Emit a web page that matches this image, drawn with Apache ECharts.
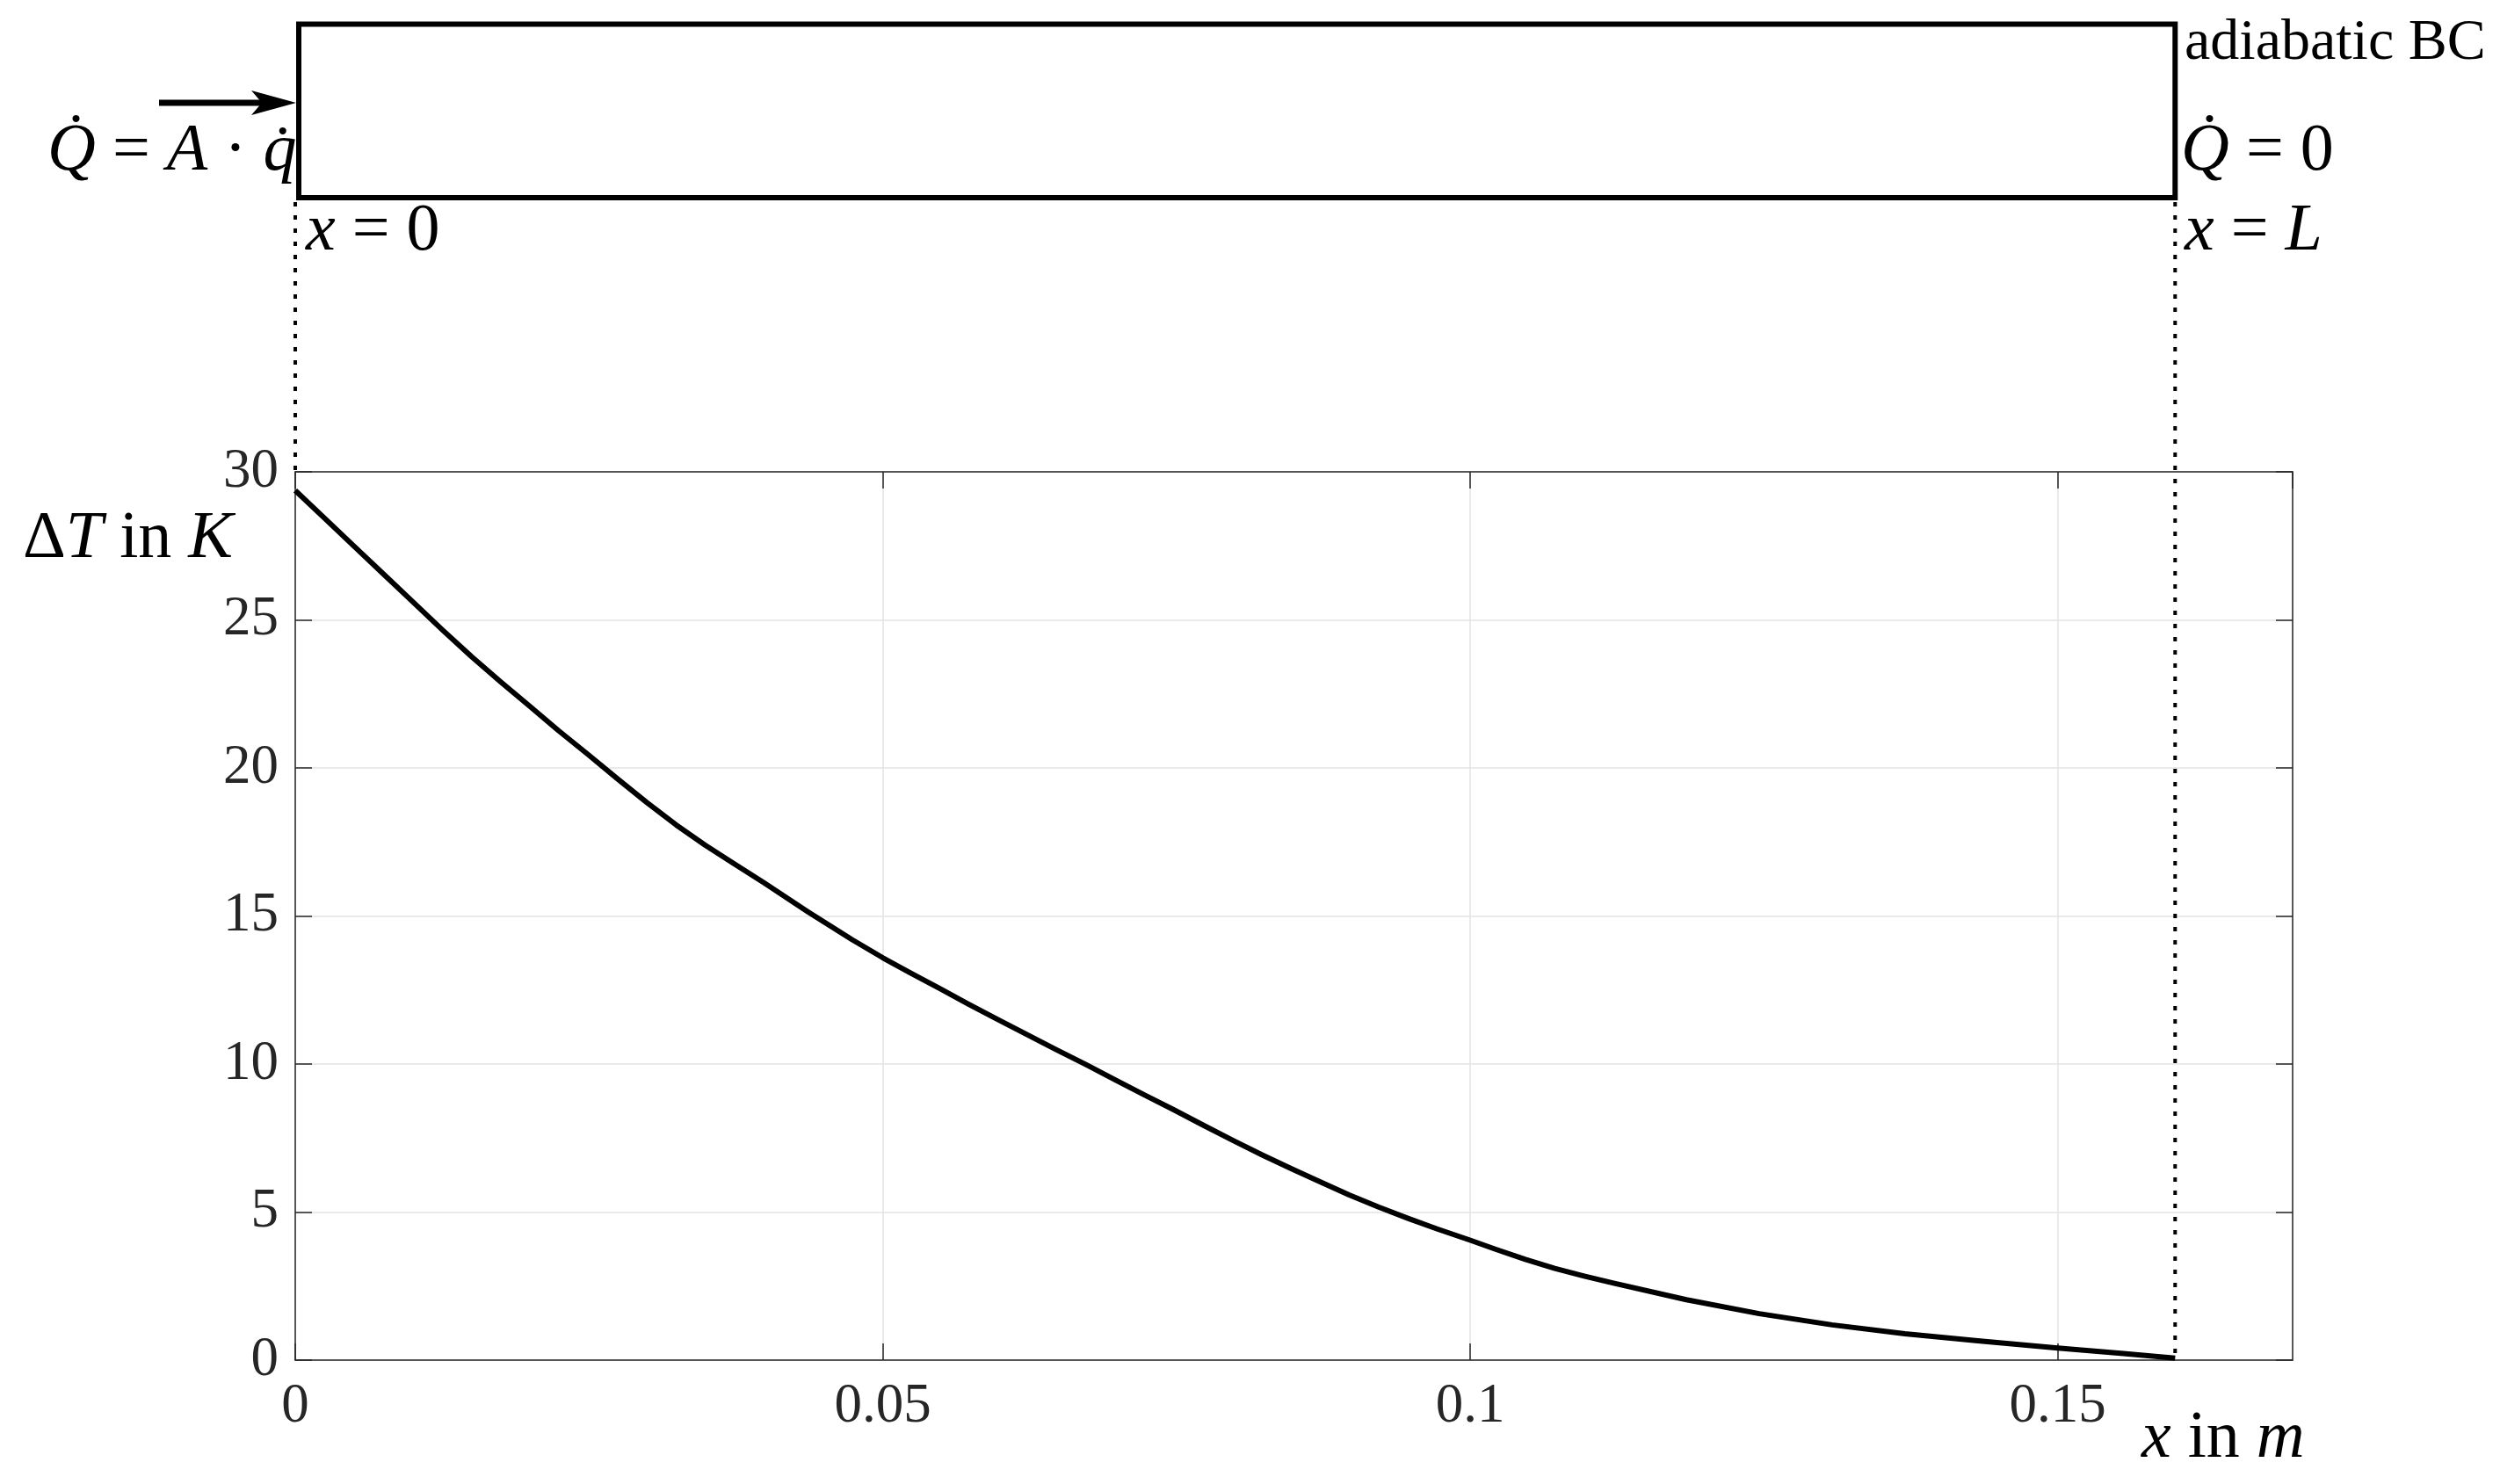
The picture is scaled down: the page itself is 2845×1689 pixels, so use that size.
<!DOCTYPE html>
<html>
<head>
<meta charset="utf-8">
<title>Temperature along rod</title>
<script src="https://cdn.jsdelivr.net/npm/echarts@6/dist/echarts.min.js"></script>
<style>
  html, body { margin: 0; padding: 0; background: #fff; }
  #chart { width: 2845px; height: 1689px; }
</style>
</head>
<body>
<div id="chart"></div>
<script>
// x position along the rod in m
const xPos = [0, 0.0025, 0.005, 0.0075, 0.01, 0.0125, 0.015, 0.0175, 0.02, 0.0224,
  0.0249, 0.0274, 0.0299, 0.0324, 0.0349, 0.0374, 0.0399, 0.0436, 0.0474,
  0.05, 0.0524, 0.0549, 0.0573, 0.0598, 0.0623, 0.0648, 0.0673, 0.0698, 0.0723,
  0.0748, 0.0773, 0.0798, 0.0823, 0.0848, 0.0873, 0.0897, 0.0922, 0.0947, 0.0972,
  0.1, 0.1022, 0.1047, 0.1072, 0.1097, 0.1122, 0.1184, 0.1246, 0.1308, 0.137,
  0.1432, 0.15, 0.1556, 0.16]
// temperature difference in K
const deltaT = [29.37, 28.43, 27.49, 26.55, 25.61, 24.67, 23.76, 22.90, 22.07, 21.26,
  20.46, 19.64, 18.84, 18.08, 17.39, 16.75, 16.12, 15.15, 14.20,
  13.59, 13.07, 12.54, 12.02, 11.50, 10.99, 10.48, 9.98, 9.46, 8.95,
  8.45, 7.93, 7.42, 6.93, 6.46, 6.01, 5.58, 5.17, 4.79, 4.43,
  4.05, 3.74, 3.40, 3.10, 2.84, 2.60, 2.04, 1.57, 1.19, 0.89,
  0.65, 0.41, 0.22, 0.07]

const rodLength = 0.16
const xMax = 0.17
const xStep = 0.05
const yMax = 30
const yStep = 5

const serif = 'Liberation Serif'
const axisColor = '#262626'

const chart = echarts.init(document.getElementById('chart'))

const baseX = {
  type: 'value', min: 0, max: xMax, interval: xStep,
  axisLine: { show: true, onZero: false, lineStyle: { color: axisColor, width: 1.5 } },
  axisTick: { show: true, inside: true, length: 19, lineStyle: { color: axisColor, width: 1.5 } },
  splitLine: { show: false }
}
const baseY = {
  type: 'value', min: 0, max: yMax, interval: yStep,
  axisLine: { show: true, onZero: false, lineStyle: { color: axisColor, width: 1.5 } },
  axisTick: { show: true, inside: true, length: 19, lineStyle: { color: axisColor, width: 1.5 } },
  splitLine: { show: false }
}

chart.setOption({
  backgroundColor: '#fff',
  animation: false,
  grid: { left: 336, top: 537, right: 236, bottom: 141 },
  xAxis: [
    Object.assign({}, baseX, {
      position: 'bottom',
      axisLabel: { show: true, showMaxLabel: false, margin: 22, fontFamily: serif, fontSize: 63, color: axisColor },
      splitLine: { show: true, lineStyle: { color: '#e3e3e3', width: 1.5 } }
    }),
    Object.assign({}, baseX, { position: 'top', axisLabel: { show: false } })
  ],
  yAxis: [
    Object.assign({}, baseY, {
      position: 'left',
      axisLabel: { show: true, margin: 19, fontFamily: serif, fontSize: 63, color: axisColor, padding: [0, 0, 14, 0] },
      splitLine: { show: true, lineStyle: { color: '#e3e3e3', width: 1.5 } }
    }),
    Object.assign({}, baseY, { position: 'right', axisLabel: { show: false } })
  ],
  series: [{
    type: 'line',
    xAxisIndex: 0,
    yAxisIndex: 0,
    data: xPos.map((x, i) => [x, deltaT[i]]),
    showSymbol: false,
    smooth: false,
    lineStyle: { color: '#000', width: 6, join: 'round' },
    z: 3
  }]
})

// schematic of the rod above the plot, positioned from the x axis
const x0 = chart.convertToPixel({ xAxisIndex: 0 }, 0)
const xL = chart.convertToPixel({ xAxisIndex: 0 }, rodLength)
const yTop = chart.convertToPixel({ yAxisIndex: 0 }, yMax)
const yBottom = chart.convertToPixel({ yAxisIndex: 0 }, 0)

const mathSize = 76
const rich = {
  i: { fontFamily: serif, fontStyle: 'italic', fontSize: mathSize, color: '#000' },
  r: { fontFamily: serif, fontSize: mathSize, color: '#000' }
}
function mathText(x, y, text) {
  return {
    type: 'text', x: x, y: y, z: 10,
    style: { text: text, rich: rich, fontFamily: serif, fontSize: mathSize, fill: '#000', align: 'left', verticalAlign: 'middle' }
  }
}

const dotted = { stroke: '#000', lineWidth: 4, lineDash: [5, 10] }

chart.setOption({
  graphic: [
    { type: 'rect', z: 10, shape: { x: x0 + 4, y: 27.5, width: xL - x0 - 4, height: 197.5 },
      style: { fill: 'none', stroke: '#000', lineWidth: 6 } },
    { type: 'line', z: 10, shape: { x1: 181, y1: 117, x2: 300, y2: 117 },
      style: { stroke: '#000', lineWidth: 7 } },
    { type: 'polygon', z: 10, shape: { points: [[x0 + 1, 117], [286, 103], [298, 117], [286, 131]] },
      style: { fill: '#000' } },
    { type: 'line', z: 10, shape: { x1: x0, y1: 230, x2: x0, y2: yTop }, style: dotted },
    { type: 'line', z: 10, shape: { x1: xL, y1: 230, x2: xL, y2: yBottom }, style: dotted },
    mathText(54, 173, '{i|Q\u0307} {r|=} {i|A} {r|\u00b7} {i|q\u0307}'),
    mathText(2482, 173, '{i|Q\u0307} {r|=} {r|0}'),
    mathText(348, 264, '{i|x} {r|=} {r|0}'),
    mathText(2486, 264, '{i|x} {r|=} {i|L}'),
    { type: 'text', x: 2486, y: 50, z: 10,
      style: { text: 'adiabatic BC', fontFamily: serif, fontSize: 66, fill: '#000', align: 'left', verticalAlign: 'middle' } },
    mathText(26, 614, '{r|\u0394}{i|T} {r|in} {i|K}'),
    mathText(2437, 1638, '{i|x} {r|in} {i|m}')
  ]
})

window.addEventListener('resize', () => chart.resize())
</script>
</body>
</html>
